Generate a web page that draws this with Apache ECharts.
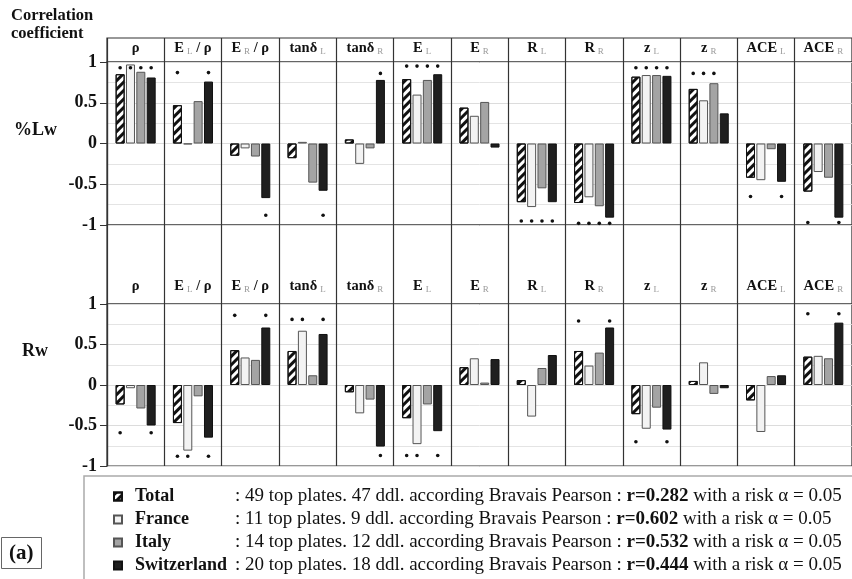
<!DOCTYPE html>
<html>
<head>
<meta charset="utf-8">
<script src="https://cdn.jsdelivr.net/npm/echarts@6/dist/echarts.min.js"></script>
<style>
  html, body { margin: 0; padding: 0; background: #fff; }
  #chart { width: 852px; height: 579px; }
</style>
</head>
<body>
<div id="chart"></div>
<script>
// Panel headings (underscore marks the subscript)
const panels = ['ρ', 'E_L / ρ', 'E_R / ρ', 'tanδ_L', 'tanδ_R', 'E_L', 'E_R',
                'R_L', 'R_R', 'z_L', 'z_R', 'ACE_L', 'ACE_R'];
const groups = ['Total', 'France', 'Italy', 'Switzerland'];
const yTicks = [-1, -0.5, 0, 0.5, 1];

// Correlation coefficients with %Lw
const lwTotal       = [0.85, 0.47, -0.15, -0.18, 0.05, 0.79, 0.44, -0.72, -0.73, 0.82, 0.67, -0.42, -0.59];
const lwFrance      = [0.97, -0.01, -0.06, 0.02, -0.25, 0.60, 0.34, -0.78, -0.66, 0.84, 0.53, -0.45, -0.35];
const lwItaly       = [0.88, 0.52, -0.16, -0.48, -0.06, 0.78, 0.51, -0.55, -0.77, 0.84, 0.74, -0.07, -0.42];
const lwSwitzerland = [0.81, 0.76, -0.67, -0.58, 0.78, 0.85, -0.05, -0.72, -0.91, 0.83, 0.37, -0.47, -0.91];
// Significance markers: level of the dot row and which groups are significant
const lwStarLevel = [0.93, 0.87, -0.88, -0.88, 0.86, 0.95, 0, -0.95, -0.98, 0.93, 0.86, -0.65, -0.97];
const lwStars = [[1,1,1,1],[1,0,0,1],[0,0,0,1],[0,0,0,1],[0,0,0,1],[1,1,1,1],[0,0,0,0],
                 [1,1,1,1],[1,1,1,1],[1,1,1,1],[1,1,1,0],[1,0,0,1],[1,0,0,1]];

// Correlation coefficients with Rw
const rwTotal       = [-0.24, -0.47, 0.43, 0.42, -0.09, -0.41, 0.22, 0.06, 0.42, -0.36, 0.05, -0.19, 0.35];
const rwFrance      = [-0.04, -0.81, 0.34, 0.67, -0.35, -0.73, 0.33, -0.39, 0.24, -0.54, 0.28, -0.58, 0.36];
const rwItaly       = [-0.29, -0.14, 0.31, 0.12, -0.18, -0.24, 0.03, 0.21, 0.40, -0.28, -0.11, 0.11, 0.33];
const rwSwitzerland = [-0.50, -0.65, 0.71, 0.63, -0.76, -0.57, 0.32, 0.37, 0.71, -0.55, -0.04, 0.12, 0.77];
const rwStarLevel = [-0.59, -0.88, 0.86, 0.81, -0.87, -0.87, 0, 0, 0.79, -0.70, 0, 0, 0.88];
const rwStars = [[1,0,0,1],[1,1,0,1],[1,0,0,1],[1,1,0,1],[0,0,0,1],[1,1,0,1],[0,0,0,0],
                 [0,0,0,0],[1,0,0,1],[1,0,0,1],[0,0,0,0],[0,0,0,0],[1,0,0,1]];

// Legend details
const topPlates = [49, 11, 14, 20];
const ddl = [47, 9, 12, 18];
const rCritical = ['0.282', '0.602', '0.532', '0.444'];

const SERIF = "'Liberation Serif', 'Times New Roman', serif";
const BAR_W = 9;
const BAR_GAP = 0.15;
const PITCH = BAR_W * (1 + BAR_GAP);

const styles = [
  { color: '#ffffff', borderColor: '#111', borderWidth: 1,
    decal: { symbol: 'rect', symbolSize: 1, dashArrayX: [1, 0], dashArrayY: [2.6, 2.6],
             rotation: -Math.PI / 4, color: '#111' } },
  { color: '#f3f3f3', borderColor: '#555', borderWidth: 1 },
  { color: '#a4a4a4', borderColor: '#555', borderWidth: 1 },
  { color: '#1f1f1f', borderColor: '#111', borderWidth: 1 }
];

function headFmt(s) {
  const m = s.match(/^([^_]+)_(\w)(.*)$/);
  if (!m) return '{b|' + s + '}';
  return '{b|' + m[1] + '}{s|' + m[2] + '}' + (m[3] ? '{b|' + m[3] + '}' : '');
}

const L = 107, W = 745;
const gridsDef = [
  { left: L, width: W, top: 38, height: 24 },   // header, %Lw row
  { left: L, width: W, top: 62, height: 163 },  // plot, %Lw row
  { left: L, width: W, top: 225, height: 79 },  // header, Rw row
  { left: L, width: W, top: 304, height: 162 }  // plot, Rw row
];

const grid = gridsDef.map(g => Object.assign({ show: true, borderColor: '#333', borderWidth: 1.2,
  backgroundColor: 'transparent', containLabel: false }, g));

const xAxis = gridsDef.map((g, i) => {
  const header = i % 2 === 0;
  return {
    type: 'category', gridIndex: i, data: panels,
    axisLine: { show: false }, axisTick: { show: false },
    splitLine: { show: true, interval: 0, lineStyle: { color: '#333', width: 1.2 } },
    axisLabel: header ? {
      show: true, inside: true, interval: 0, margin: i === 0 ? 6 : 10,
      formatter: headFmt,
      rich: {
        b: { fontFamily: SERIF, fontWeight: 'bold', fontSize: 14.5, color: '#111' },
        s: { fontFamily: SERIF, fontSize: 9, color: '#999', padding: [6, 0, 0, 3] }
      }
    } : { show: false }
  };
});

const yAxis = gridsDef.map((g, i) => {
  if (i % 2 === 0) return { type: 'value', gridIndex: i, show: false, min: 0, max: 1 };
  return {
    type: 'value', gridIndex: i, min: -1, max: 1, interval: 0.5,
    axisLine: { show: true, lineStyle: { color: '#333', width: 1.2 } },
    axisTick: { show: true, length: 7, lineStyle: { color: '#333' } },
    axisLabel: { fontFamily: SERIF, fontWeight: 'bold', fontSize: 18, color: '#111', margin: 10,
      formatter: v => String(v) },
    splitLine: { show: true, lineStyle: { color: '#dcdcdc' } },
    minorTick: { show: false, splitNumber: 2 },
    minorSplitLine: { show: true, lineStyle: { color: '#e4e4e4' } }
  };
});

const rows = [
  { axis: 1, values: [lwTotal, lwFrance, lwItaly, lwSwitzerland], level: lwStarLevel, stars: lwStars },
  { axis: 3, values: [rwTotal, rwFrance, rwItaly, rwSwitzerland], level: rwStarLevel, stars: rwStars }
];

const series = [];
rows.forEach(row => {
  groups.forEach((name, k) => {
    series.push({
      type: 'bar', name: name, xAxisIndex: row.axis, yAxisIndex: row.axis,
      data: row.values[k], barWidth: BAR_W, barGap: (BAR_GAP * 100) + '%',
      itemStyle: styles[k], emphasis: { disabled: true }, animation: false
    });
  });
  const dots = [];
  row.stars.forEach((flags, p) => flags.forEach((f, k) => { if (f) dots.push([p, k, row.level[p]]); }));
  series.push({
    type: 'custom', name: 'significance', xAxisIndex: row.axis, yAxisIndex: row.axis,
    data: dots, encode: { x: 0, y: 2 }, animation: false, z: 5,
    renderItem: (params, api) => {
      const pt = api.coord([api.value(0), api.value(2)]);
      return { type: 'circle', shape: { cx: pt[0] + (api.value(1) - 1.5) * PITCH, cy: pt[1], r: 1.8 },
               style: { fill: '#111' } };
    }
  });
});

const option = {
  backgroundColor: '#fff',
  animation: false,
  title: [
    { text: 'Correlation\ncoefficient', left: 6, top: 2,
      textStyle: { fontFamily: SERIF, fontWeight: 'bold', fontSize: 16.5, lineHeight: 18, color: '#111' } },
    { text: '%Lw', left: 9, top: 116,
      textStyle: { fontFamily: SERIF, fontWeight: 'bold', fontSize: 18, color: '#111' } },
    { text: 'Rw', left: 17, top: 337,
      textStyle: { fontFamily: SERIF, fontWeight: 'bold', fontSize: 18, color: '#111' } },
    { text: '(a)', left: 1, top: 537, padding: [6, 8, 5, 8], borderColor: '#666', borderWidth: 1,
      textStyle: { fontFamily: SERIF, fontWeight: 'bold', fontSize: 21, color: '#111' } }
  ],
  legend: {
    data: groups, orient: 'vertical', left: 84, top: 476, height: 300,
    padding: [11, 40, 30, 29], itemWidth: 8, itemHeight: 8, itemGap: 4,
    borderColor: '#aaa', borderWidth: 1.5, selectedMode: false, icon: 'rect',
    formatter: name => {
      const i = groups.indexOf(name);
      return '{n|' + name + '}{d|: ' + topPlates[i] + ' top plates. ' + ddl[i] +
        ' ddl. according Bravais Pearson : }{r|r=' + rCritical[i] + '}{d| with a risk α = 0.05}';
    },
    textStyle: {
      rich: {
        n: { fontFamily: SERIF, fontWeight: 'bold', fontSize: 18, lineHeight: 17, width: 100,
             padding: [0, 0, 0, 8], color: '#111' },
        d: { fontFamily: SERIF, fontSize: 19, lineHeight: 17, color: '#111' },
        r: { fontFamily: SERIF, fontWeight: 'bold', fontSize: 19, lineHeight: 17, color: '#111' }
      }
    }
  },
  grid, xAxis, yAxis, series
};

const chart = echarts.init(document.getElementById('chart'), null, { renderer: 'canvas' });
chart.setOption(option);
</script>
</body>
</html>
